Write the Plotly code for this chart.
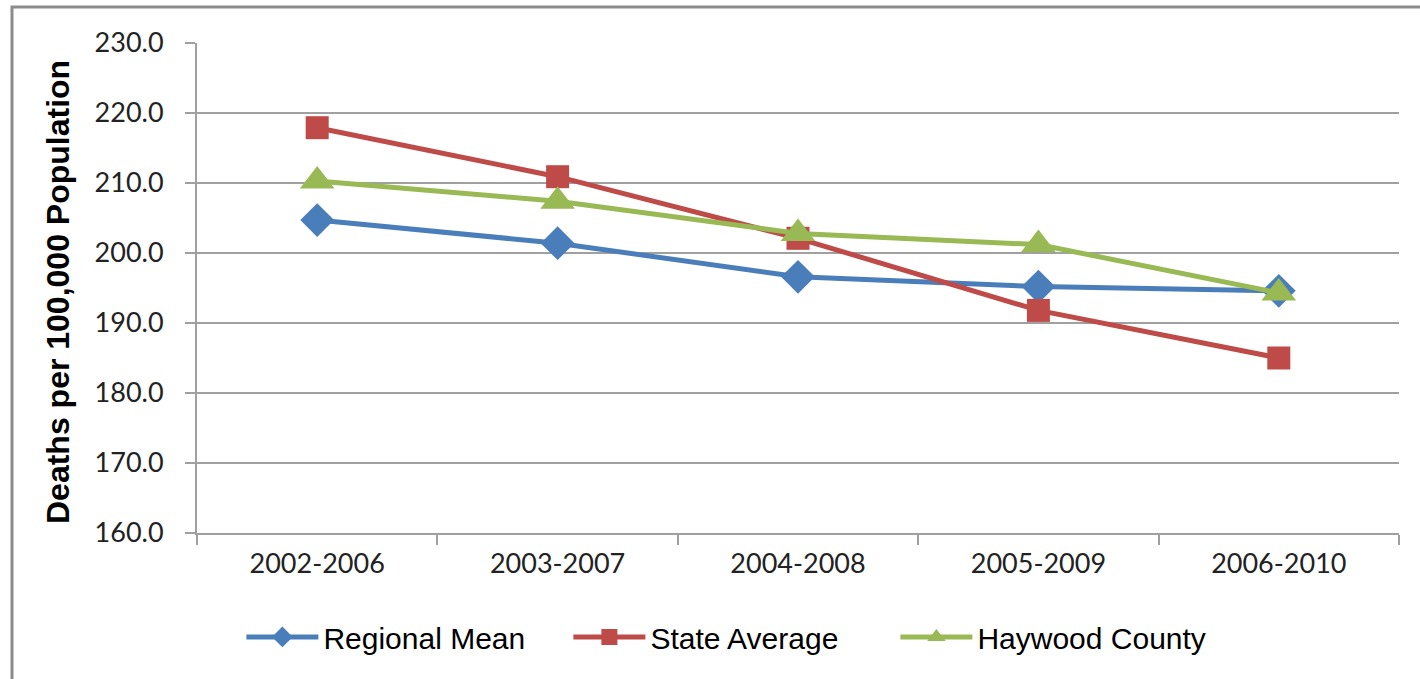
import plotly.graph_objects as go

categories = ["2002-2006", "2003-2007", "2004-2008", "2005-2009", "2006-2010"]
regional_mean = [204.7, 201.4, 196.6, 195.2, 194.6]
state_average = [217.9, 210.9, 202.1, 191.8, 185.0]
haywood_county = [210.3, 207.4, 202.8, 201.2, 194.3]
y_ticks = [160, 170, 180, 190, 200, 210, 220, 230]

BLUE = "#4A7EBB"
RED = "#BE4B48"
GREEN = "#98B954"
GRID = "#A0A0A0"

fig = go.Figure()
fig.add_trace(go.Scatter(
    x=categories, y=regional_mean, name="Regional Mean", mode="lines+markers",
    line=dict(color=BLUE, width=5),
    marker=dict(symbol="diamond", size=26, color=BLUE),
))
fig.add_trace(go.Scatter(
    x=categories, y=state_average, name="State Average", mode="lines+markers",
    line=dict(color=RED, width=5),
    marker=dict(symbol="square", size=23, color=RED),
))
fig.add_trace(go.Scatter(
    x=categories, y=haywood_county, name="Haywood County", mode="lines+markers",
    line=dict(color=GREEN, width=5),
    marker=dict(symbol="triangle-up", size=30, color=GREEN),
))

L, R, T, B = 197, 21, 43, 146
W, H = 1420, 679
pw, ph = W - L - R, H - T - B

fig.update_layout(
    width=W, height=H,
    margin=dict(l=L, r=R, t=T, b=B, pad=0),
    paper_bgcolor="white", plot_bgcolor="white",
    showlegend=True,
    legend=dict(
        orientation="h", x=0.445, xanchor="center", y=-0.212, yanchor="middle",
        font=dict(family="Liberation Sans, Arial", size=30, color="#000000"),
        itemwidth=72, entrywidth=240, tracegroupgap=0,
    ),
    xaxis=dict(
        type="category", range=[-0.5, 4.5],
        showline=True, linecolor=GRID, linewidth=2,
        ticks="outside", ticklen=10, tickcolor=GRID, tickwidth=2,
        tickson="boundaries", showgrid=False, zeroline=False,
        tickfont=dict(family="Lato, Open Sans", size=27, color="#222222"),
        ticklabelstandoff=6,
    ),
    yaxis=dict(
        range=[160, 230], tickvals=y_ticks, tickformat=".1f",
        showline=True, linecolor=GRID, linewidth=2,
        ticks="outside", ticklen=10, tickcolor=GRID, tickwidth=2,
        showgrid=True, gridcolor=GRID, gridwidth=2, zeroline=False,
        tickfont=dict(family="Lato, Open Sans", size=27, color="#222222"),
        ticklabelstandoff=16,
    ),
    annotations=[dict(
        text="<b>Deaths per 100,000 Population</b>",
        xref="paper", yref="paper",
        x=(58 - L) / pw, y=(H - B - 292) / ph,
        xanchor="center", yanchor="middle", textangle=-90, showarrow=False,
        font=dict(family="Liberation Sans, Arial", size=32, color="#000000"),
    )],
    shapes=[dict(
        type="rect", xref="paper", yref="paper",
        x0=(12 - L) / pw, x1=1.2, y0=-0.6, y1=1 + (T - 7) / ph,
        line=dict(color="#8C8C8C", width=3), fillcolor="rgba(0,0,0,0)",
        layer="below",
    )],
)

fig.write_html(
    "out.html",
    config={"displayModeBar": False},
    post_script="document.body.style.margin='0';document.body.style.overflow='hidden';",
)
